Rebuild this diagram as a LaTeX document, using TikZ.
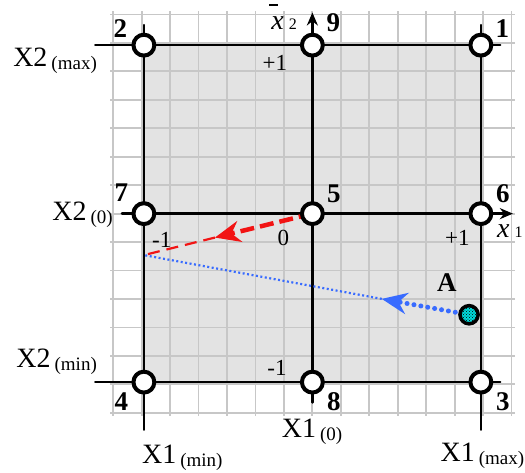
\documentclass[tikz,border=0pt]{standalone}
\usepackage{fontspec}
\setmainfont{Liberation Serif}
\usepackage{tkz-euclide}
\usetikzlibrary{arrows.meta,patterns,calc}
\definecolor{GridClr}{rgb}{0.78,0.78,0.78}
\definecolor{PlanClr}{rgb}{0.89,0.89,0.89}
\definecolor{PathRed}{rgb}{0.95,0.08,0.08}
\definecolor{PathBlue}{rgb}{0.22,0.42,1}
\definecolor{MarkClr}{rgb}{0,0.85,0.85}
\newcommand{\lvl}[1]{\raisebox{-3pt}{\fontsize{19}{19}\selectfont(#1)}}
% filled head: tip at #2, pointing away from #3
\newcommand{\stepHead}[3]{\fill[#1] (#2) -- ($(#2)!28pt!23:(#3)$) -- ($(#2)!17pt!(#3)$)
  -- ($(#2)!28pt!-23:(#3)$) -- cycle;}

\begin{document}
\begin{tikzpicture}[x=33.7pt,y=33.7pt,
  num/.style={anchor=center,inner sep=0pt,font=\fontsize{27}{27}\selectfont\bfseries},
  tick/.style={anchor=center,inner sep=0pt,font=\fontsize{23}{23}\selectfont},
  factor/.style={inner sep=0pt,font=\fontsize{28}{28}\selectfont},
  expt/.style={draw=black,line width=4pt,fill=white}]
\useasboundingbox (-9.27,-7.67) rectangle (6.31,6.34);

% plan area
\fill[PlanClr] (-5,-5) rectangle (5,5);
\draw[GridClr,line width=1.8pt] (-6,-6) grid (6,6);

\tkzDefPoints{5/5/P1,-5/5/P2,5/-5/P3,-5/-5/P4,0/0/P5,5/0/P6,-5/0/P7,0/-5/P8,0/5/P9}
\tkzDefPoints{-6.45/5/Ta,5.58/5/Tb,-6.45/-5/Ba,5.58/-5/Bb,-5/5.6/La,-5/-6.42/Lb,5/5.6/Ra,5/-6.42/Rb}
\tkzDefPoints{-5.65/0/Xa,5.95/0/Xb,0/-5.6/Ya,0/5.97/Yb}
\tkzDefPoints{4.65/-3/A,-5/-1.23/S,-2.89/-0.71/Sr,2.06/-2.53/Sb}

\tkzDrawSegments[line width=2pt,color=black](Ta,Tb Ba,Bb La,Lb Ra,Rb)
\tkzDrawSegments[line width=2.8pt,color=black,-{Stealth[length=13pt,width=11pt]}](Xa,Xb Ya,Yb)

% steps towards the optimum
\draw[PathRed,line width=4.5pt,dash pattern=on 14pt off 6pt] (P5) -- ($(Sr)!15pt!(P5)$);
\draw[PathRed,line width=2.2pt,dash pattern=on 12pt off 7pt] (Sr) -- (S);
\draw[PathBlue,line width=5pt,line cap=round,dash pattern=on 0pt off 7pt] (A) -- ($(Sb)!17pt!(A)$);
\draw[PathBlue,line width=2.2pt,dash pattern=on 2pt off 2.5pt] (Sb) -- (S);
\stepHead{PathRed}{Sr}{P5}
\stepHead{PathBlue}{Sb}{A}

\foreach \p in {P1,P2,P3,P4,P5,P6,P7,P8,P9}
  \draw[expt] (\p) circle (0.31);

\fill[MarkClr] (A) circle (0.27);
\fill[pattern=crosshatch dots,pattern color=black] (A) circle (0.27);
\draw[line width=3.5pt] (A) circle (0.27);

\node[num] (n1) at (5.64,5.49) {1};
\node[num] (n2) at (-5.70,5.49) {2};
\node[num] (n3) at (5.65,-5.58) {3};
\node[num] (n4) at (-5.67,-5.58) {4};
\node[num] (n5) at (0.64,0.59) {5};
\node[num] (n6) at (5.65,0.59) {6};
\node[num] (n7) at (-5.67,0.62) {7};
\node[num] (n8) at (0.64,-5.58) {8};
\node[num] (n9) at (0.62,5.67) {9};
\node[num] (nA) at (3.99,-2.06) {A};

\node[tick] (tx2p) at (-1.11,4.48) {+1};
\node[tick] (tx1p) at (4.30,-0.71) {+1};
\node[tick] (tzero) at (-0.86,-0.71) {0};
\node[tick] (tx1m) at (-4.47,-0.79) {-1};
\node[tick] (tx2m) at (-1.05,-4.57) {-1};

\node[factor,anchor=base west] (ax2) at (-1.22,5.45) {\itshape x\hspace{5pt}{\fontsize{16}{16}\selectfont\upshape 2}};
\node[factor,anchor=base west] (ax1) at (5.48,-0.70) {\itshape x\hspace{5pt}{\fontsize{16}{16}\selectfont\upshape 1}};
\fill (-1.28,6.15) rectangle (-1.02,6.21);

\node[factor,anchor=base east] (x2max) at (-6.39,4.38) {X2\hspace{4pt}\lvl{max}};
\node[factor,anchor=base east] (x2nul) at (-5.92,-0.19) {X2\hspace{4pt}\lvl{0}};
\node[factor,anchor=base east] (x2min) at (-6.39,-4.58) {X2\hspace{4pt}\lvl{min}};
\node[factor,anchor=base west] (x1min) at (-5.06,-7.40) {X1\hspace{4pt}\lvl{min}};
\node[factor,anchor=base west] (x1nul) at (-0.91,-6.63) {X1\hspace{4pt}\lvl{0}};
\node[factor,anchor=base west] (x1max) at (3.80,-7.37) {X1\hspace{4pt}\lvl{max}};

\end{tikzpicture}
\end{document}
